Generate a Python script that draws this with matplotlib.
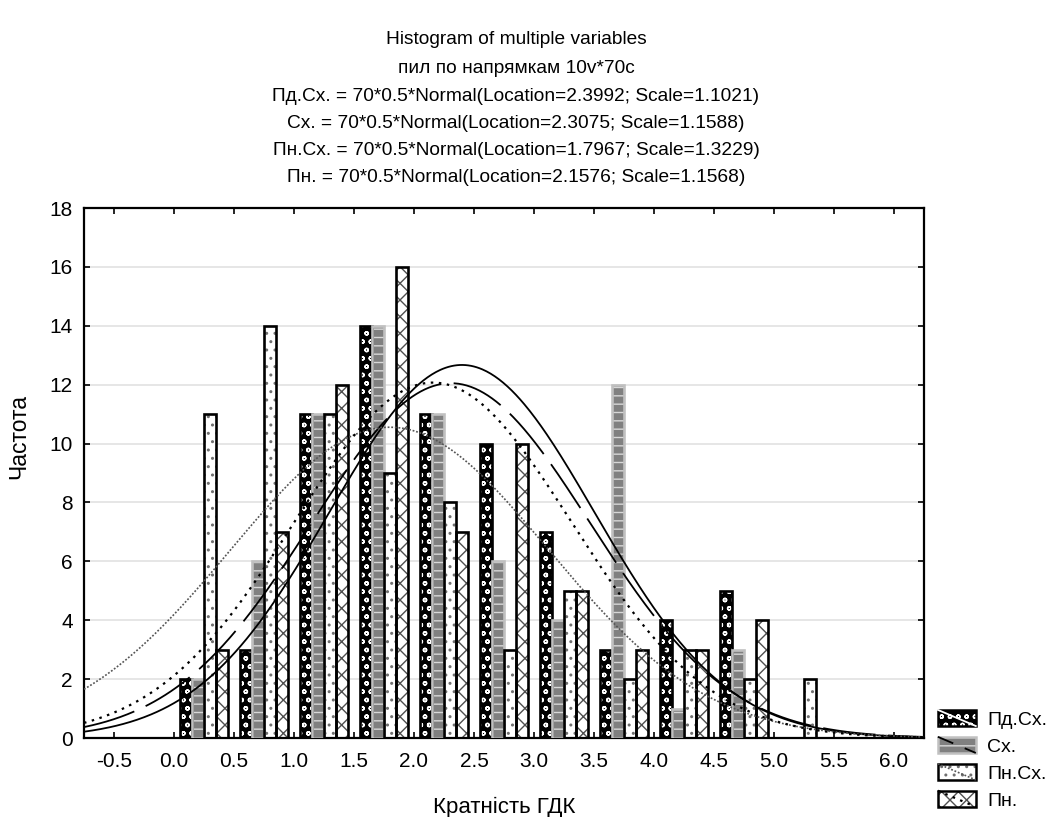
import numpy as np
import matplotlib
matplotlib.use("Agg")
import matplotlib.pyplot as plt
from matplotlib.patches import Rectangle
from matplotlib.lines import Line2D
from matplotlib.legend_handler import HandlerBase

plt.rcParams["font.family"] = ["Liberation Sans", "DejaVu Sans"]
plt.rcParams["hatch.linewidth"] = 1.0
plt.rcParams["lines.scale_dashes"] = False

# ---- data -------------------------------------------------------------
series_names = ["Пд.Сх.", "Сх.", "Пн.Сх.", "Пн."]
bin_starts = [0.0, 0.5, 1.0, 1.5, 2.0, 2.5, 3.0, 3.5, 4.0, 4.5, 5.0]
counts_pd_skh = [2, 3, 11, 14, 11, 10, 7, 3, 4, 5, 0]
counts_skh = [2, 6, 11, 14, 11, 6, 4, 12, 1, 3, 0]
counts_pn_skh = [11, 14, 11, 9, 8, 3, 5, 2, 3, 2, 2]
counts_pn = [3, 7, 12, 16, 7, 10, 5, 3, 3, 4, 0]
n_obs = 70
bin_width = 0.5
locations = [2.3992, 2.3075, 1.7967, 2.1576]
scales = [1.1021, 1.1588, 1.3229, 1.1568]
x_ticks = [-0.5, 0.0, 0.5, 1.0, 1.5, 2.0, 2.5, 3.0, 3.5, 4.0, 4.5, 5.0, 5.5, 6.0]
y_ticks = [0, 2, 4, 6, 8, 10, 12, 14, 16, 18]

all_counts = [counts_pd_skh, counts_skh, counts_pn_skh, counts_pn]

# ---- styles -----------------------------------------------------------
bar_styles = [
    dict(face="black", hatch="oo", hatch_color="white", edge="black"),
    dict(face="#808080", hatch="--", hatch_color="#d8d8d8", edge="#c0c0c0"),
    dict(face="white", hatch="..", hatch_color="#707070", edge="black"),
    dict(face="white", hatch="xx", hatch_color="#505050", edge="black"),
]
line_styles = [
    dict(color="black", lw=1.3, dashes=None),
    dict(color="black", lw=1.3, dashes=(38, 9)),
    dict(color="#555555", lw=1.2, dashes=(1.3, 1.3)),
    dict(color="black", lw=1.6, dashes=(1.8, 4.0)),
]

fig = plt.figure(figsize=(10.51, 8.17), dpi=100)
ax = fig.add_axes([84 / 1051, 1 - 738 / 817, 840 / 1051, 530 / 817])

sub_w = 0.1
offset0 = 0.05
for i, (counts, st) in enumerate(zip(all_counts, bar_styles)):
    xs = np.array(bin_starts) + offset0 + i * sub_w
    hs = np.array(counts, dtype=float)
    keep = hs > 0
    ax.bar(xs[keep], hs[keep], width=sub_w, align="edge",
           color=st["face"], edgecolor=st["hatch_color"], hatch=st["hatch"],
           linewidth=0, zorder=2)
    ax.bar(xs[keep], hs[keep], width=sub_w, align="edge",
           facecolor="none", edgecolor=st["edge"], linewidth=1.9, zorder=3)

# fitted normal curves scaled to counts
xx = np.linspace(-0.75, 6.25, 600)
for mu, sd, ls in zip(locations, scales, line_styles):
    yy = n_obs * bin_width * np.exp(-0.5 * ((xx - mu) / sd) ** 2) / (sd * np.sqrt(2 * np.pi))
    ln, = ax.plot(xx, yy, color=ls["color"], lw=ls["lw"], zorder=4)
    if ls["dashes"] is not None:
        ln.set_dashes(ls["dashes"])

ax.set_xlim(-0.75, 6.25)
ax.set_ylim(0, 18)
ax.set_xticks(x_ticks)
ax.set_xticklabels([f"{v:.1f}" for v in x_ticks])
ax.set_yticks(y_ticks)
ax.yaxis.grid(True, color="#e2e2e2", lw=1.2, zorder=0)
ax.set_axisbelow(True)
ax.tick_params(axis="both", direction="in", top=True, right=True,
               length=4, width=1.2, labelsize=15, color="black")
ax.tick_params(axis="x", pad=10)
ax.tick_params(axis="y", pad=8)
for sp in ax.spines.values():
    sp.set_linewidth(1.6)

ax.set_xlabel("Кратність ГДК", fontsize=16)
ax.xaxis.set_label_coords(0.5, -0.111)
ax.set_ylabel("Частота", fontsize=16.5)
ax.yaxis.set_label_coords(-0.064, 0.568)

# title block
title_lines = [
    "Histogram of multiple variables",
    "пил по напрямкам 10v*70c",
] + [f"{n} = {n_obs}*{bin_width}*Normal(Location={m:.4f}; Scale={s:.4f})"
     for n, m, s in zip(series_names, locations, scales)]
title_baselines = [44, 73, 101, 128, 155, 182]
for txt, yb in zip(title_lines, title_baselines):
    fig.text(516 / 1051, 1 - yb / 817, txt, ha="center", va="baseline", fontsize=13.8)


# legend: hatched swatch with the curve style drawn diagonally across it
class SeriesKey:
    def __init__(self, bar_style, line_style, diag_color):
        self.bar_style = bar_style
        self.line_style = line_style
        self.diag_color = diag_color


class SeriesKeyHandler(HandlerBase):
    def create_artists(self, legend, orig_handle, xdescent, ydescent,
                       width, height, fontsize, trans):
        st = orig_handle.bar_style
        ls = orig_handle.line_style
        x0, y0 = -xdescent, -ydescent
        fill = Rectangle((x0, y0), width, height, facecolor=st["face"],
                         edgecolor=st["hatch_color"], hatch=st["hatch"],
                         linewidth=0, transform=trans)
        outline = Rectangle((x0, y0), width, height, facecolor="none",
                            edgecolor=st["edge"], linewidth=1.8, transform=trans)
        diag = Line2D([x0, x0 + width], [y0 + height, y0],
                      color=orig_handle.diag_color, lw=ls["lw"], transform=trans)
        if ls["dashes"] is not None:
            d = ls["dashes"]
            diag.set_dashes((min(d[0], 12), d[1]))
        return [fill, outline, diag]


diag_colors = ["white", "black", "#555555", "black"]
keys = [SeriesKey(b, l, c) for b, l, c in zip(bar_styles, line_styles, diag_colors)]
fig.legend(keys, series_names, handler_map={SeriesKey: SeriesKeyHandler()},
           loc="upper left", bbox_to_anchor=(934 / 1051, 1 - 706 / 817),
           frameon=False, fontsize=14, handlelength=1.95, handleheight=0.9,
           handletextpad=0.6, labelspacing=0.42, borderpad=0.2,
           borderaxespad=0)

fig.savefig("out.png", dpi=100, facecolor="white")
